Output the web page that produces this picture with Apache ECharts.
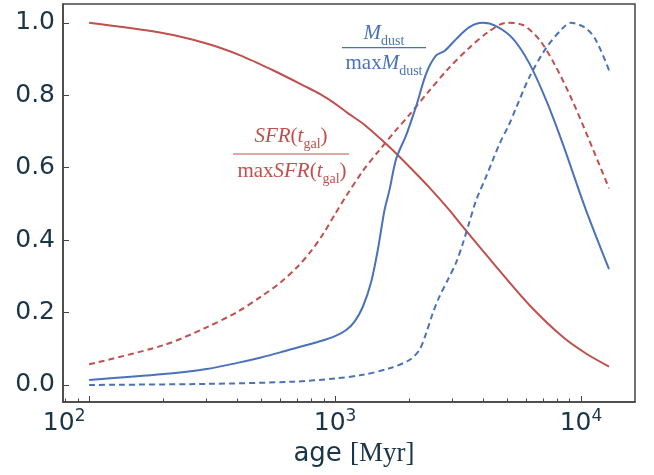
<!DOCTYPE html>
<html>
<head>
<meta charset="utf-8">
<script src="https://cdn.jsdelivr.net/npm/echarts@6/dist/echarts.min.js"></script>
<style>
  html, body { margin: 0; padding: 0; background: #fff; }
  #chart { width: 654px; height: 475px; }
</style>
</head>
<body>
<div id="chart"></div>
<script>
// red solid: SFR(t_gal) / max SFR
const sfrAge = [100, 194, 300, 409, 559, 764, 870, 1000, 1130, 1297, 1664, 2070, 2420, 2917, 3305, 4515, 6166, 8420, 10478, 13000];
const sfrValue = [1.0, 0.973, 0.943, 0.911, 0.869, 0.823, 0.803, 0.777, 0.75, 0.722, 0.657, 0.593, 0.545, 0.483, 0.437, 0.327, 0.221, 0.133, 0.087, 0.051];

// red dashed
const redDashAge = [100, 201, 300, 401, 500, 600, 700, 800, 900, 1000, 1110, 1300, 1500, 1750, 2000, 2400, 2900, 3500, 4200, 4960, 5800, 6800, 7900, 9200, 10800, 13000];
const redDashValue = [0.057, 0.110, 0.159, 0.202, 0.244, 0.283, 0.325, 0.37, 0.42, 0.472, 0.522, 0.592, 0.645, 0.70, 0.745, 0.81, 0.875, 0.93, 0.975, 1.0, 0.994, 0.952, 0.879, 0.787, 0.676, 0.543];

// blue solid: M_dust / max M_dust
const dustAge = [100, 201, 300, 401, 500, 599, 699, 891, 1000, 1110, 1200, 1297, 1403, 1492, 1589, 1664, 1773, 1946, 2137, 2347, 2576, 2786, 3106, 3518, 3985, 4515, 5274, 6166, 7208, 8420, 10478, 13000];
const dustValue = [0.014, 0.030, 0.044, 0.061, 0.076, 0.090, 0.103, 0.123, 0.135, 0.152, 0.175, 0.216, 0.285, 0.373, 0.483, 0.538, 0.625, 0.69, 0.77, 0.86, 0.91, 0.922, 0.955, 0.988, 1.0, 0.991, 0.957, 0.888, 0.787, 0.667, 0.483, 0.320];

// blue dashed
const blueDashAge = [100, 300, 674, 1000, 1297, 1664, 2007, 2204, 2347, 2496, 2657, 2872, 3106, 3305, 3518, 3746, 4112, 4375, 4657, 5105, 5444, 6166, 7208, 8420, 9105, 10478, 11506, 13000];
const blueDashValue = [0.0, 0.003, 0.009, 0.018, 0.028, 0.046, 0.069, 0.097, 0.143, 0.198, 0.244, 0.290, 0.338, 0.39, 0.45, 0.51, 0.575, 0.62, 0.665, 0.72, 0.765, 0.85, 0.93, 0.985, 1.0, 0.985, 0.952, 0.869];

const xMajorTicks = [100, 1000, 10000];
const xMinorTicks = [80, 90, 200, 300, 400, 500, 600, 700, 800, 900, 2000, 3000, 4000, 5000, 6000, 7000, 8000, 9000];
const yTicks = [0, 0.2, 0.4, 0.6, 0.8, 1.0];

const RED = "#c0504d";
const BLUE = "#4a72b8";
const TEXT = "#1b3548";
const FRAME = "#444";
const SANS = "DejaVu Sans";
const SERIF = "Liberation Serif";

const pairs = (xs, ys) => xs.map((x, i) => [x, ys[i]]);

// rich styles for the math annotations
const mathRich = (color) => ({
  i: { fontFamily: SERIF, fontStyle: "italic", fontSize: 21, lineHeight: 22, padding: [0, 0, 4, 0], verticalAlign: "bottom", fill: color, color: color },
  r: { fontFamily: SERIF, fontSize: 21, lineHeight: 22, padding: [0, 0, 4, 0], verticalAlign: "bottom", fill: color, color: color },
  s: { fontFamily: SERIF, fontSize: 14, lineHeight: 16, verticalAlign: "bottom", fill: color, color: color },
});

const chart = echarts.init(document.getElementById("chart"), null, { renderer: "canvas" });

const option = {
  animation: false,
  backgroundColor: "#fff",
  grid: {
    left: 63,
    right: 19,
    top: 4,
    bottom: 73,
    show: true,
    borderColor: FRAME,
    borderWidth: 1.5,
  },
  xAxis: [
    {
      type: "log",
      logBase: 10,
      min: 78.3,
      max: 16580,
      position: "bottom",
      axisLine: { show: true, onZero: false, lineStyle: { color: FRAME, width: 1.5 } },
      axisTick: { show: true, inside: true, length: 6, customValues: xMajorTicks, lineStyle: { color: FRAME, width: 1 } },
      splitLine: { show: false },
      axisLabel: {
        customValues: xMajorTicks,
        margin: 6,
        formatter: (v) => {
          const e = Math.round(Math.log10(v));
          return "{b|10}{s|" + e + "}" + (e === 2 ? "{p|}" : "");
        },
        rich: {
          b: { fontFamily: SANS, fontSize: 25, lineHeight: 28, verticalAlign: "bottom", color: TEXT },
          s: { fontFamily: SANS, fontSize: 17, lineHeight: 18, verticalAlign: "top", color: TEXT },
          p: { width: 50 },
        },
      },
      name: "{a|age }{m|[Myr]}",
      nameLocation: "middle",
      nameGap: 37,
      nameTextStyle: {
        padding: [0, 0, 0, 10],
        rich: {
          a: { fontFamily: SANS, fontSize: 26, color: TEXT },
          m: { fontFamily: SERIF, fontSize: 27, color: TEXT },
        },
      },
    },
    {
      type: "log",
      logBase: 10,
      min: 78.3,
      max: 16580,
      position: "bottom",
      axisLine: { show: false, onZero: false },
      axisTick: { show: true, inside: true, length: 3.5, customValues: xMinorTicks, lineStyle: { color: FRAME, width: 1 } },
      axisLabel: { show: false },
      splitLine: { show: false },
    },
  ],
  yAxis: {
    type: "value",
    min: -0.047,
    max: 1.052,
    axisLine: { show: true, onZero: false, lineStyle: { color: FRAME, width: 1.5 } },
    axisTick: { show: true, inside: true, length: 6, customValues: yTicks, lineStyle: { color: FRAME, width: 1 } },
    splitLine: { show: false },
    axisLabel: {
      customValues: yTicks,
      margin: 8,
      formatter: (v) => v.toFixed(1),
      fontFamily: SANS,
      fontSize: 25,
      color: TEXT,
    },
  },
  series: [
    {
      name: "SFR",
      type: "line",
      data: pairs(sfrAge, sfrValue),
      showSymbol: false,
      smooth: 0.3,
      lineStyle: { color: RED, width: 2 },
    },
    {
      name: "SFR dashed",
      type: "line",
      data: pairs(redDashAge, redDashValue),
      showSymbol: false,
      smooth: 0.3,
      lineStyle: { color: RED, width: 2, type: [6, 4] },
    },
    {
      name: "Mdust",
      type: "line",
      data: pairs(dustAge, dustValue),
      showSymbol: false,
      smooth: 0.3,
      lineStyle: { color: BLUE, width: 2 },
    },
    {
      name: "Mdust dashed",
      type: "line",
      data: pairs(blueDashAge, blueDashValue),
      showSymbol: false,
      smooth: 0.3,
      lineStyle: { color: BLUE, width: 2, type: [6, 4] },
    },
  ],
  graphic: [
    // M_dust / max M_dust
    {
      type: "text", x: 384, y: 48,
      style: { text: "{i|M}{s|dust}", rich: mathRich(BLUE), align: "center", verticalAlign: "bottom", fill: BLUE },
    },
    { type: "line", shape: { x1: 342, y1: 47.7, x2: 426, y2: 47.7 }, style: { stroke: BLUE, lineWidth: 1.2 } },
    {
      type: "text", x: 384, y: 78,
      style: { text: "{r|max}{i|M}{s|dust}", rich: mathRich(BLUE), align: "center", verticalAlign: "bottom", fill: BLUE },
    },
    // SFR(t_gal) / max SFR(t_gal)
    {
      type: "text", x: 291, y: 151,
      style: { text: "{i|SFR}{r|(}{i|t}{s|gal}{r|)}", rich: mathRich(RED), align: "center", verticalAlign: "bottom", fill: RED },
    },
    { type: "line", shape: { x1: 233, y1: 154, x2: 349, y2: 154 }, style: { stroke: RED, lineWidth: 1.2 } },
    {
      type: "text", x: 292, y: 186,
      style: { text: "{r|max}{i|SFR}{r|(}{i|t}{s|gal}{r|)}", rich: mathRich(RED), align: "center", verticalAlign: "bottom", fill: RED },
    },
  ],
};

chart.setOption(option);
</script>
</body>
</html>
